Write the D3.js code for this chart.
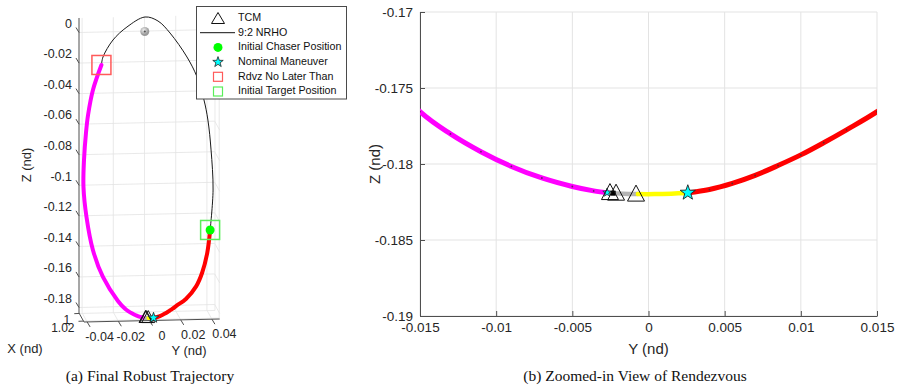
<!DOCTYPE html>
<html>
<head>
<meta charset="utf-8">
<script src="https://cdn.jsdelivr.net/npm/d3@7"></script>
<style>
  body { margin: 0; background: #fff; }
  svg { display: block; font-family: "Liberation Sans", Arial, sans-serif; }
</style>
</head>
<body>
<svg id="fig" width="898" height="389"></svg>
<script>
// ---- trajectory data, [X, Y, Z] in non-dimensional units ----
// 9:2 NRHO, from the rendezvous deadline point over apolune down to the chaser start
const nrhoArc = [
  [1.0023, -0.0281, -0.0207], [1.0023, -0.0271, -0.0155], [1.0016, -0.0206, -0.0047],
  [1.0012, -0.0116, 0.0035],  [1.0012, 0.0000, 0.0098],   [1.0012, 0.0083, 0.0070],
  [1.0023, 0.0159, -0.0008],  [1.0047, 0.0264, -0.0161],  [1.0059, 0.0327, -0.0290],
  [1.0070, 0.0370, -0.0439],  [1.0094, 0.0392, -0.0565],  [1.0117, 0.0409, -0.0755],
  [1.0153, 0.0417, -0.1009],  [1.0176, 0.0395, -0.1264]
];
// target motion down to the rendezvous (magenta)
const targetArc = [
  [1.0023, -0.0281, -0.0207], [1.0035, -0.0337, -0.0366], [1.0047, -0.0370, -0.0526],
  [1.0059, -0.0385, -0.0641], [1.0070, -0.0399, -0.0814], [1.0082, -0.0404, -0.0988],
  [1.0106, -0.0388, -0.1179], [1.0129, -0.0350, -0.1390], [1.0153, -0.0289, -0.1562],
  [1.0176, -0.0196, -0.1715], [1.0188, -0.0150, -0.17656], [1.0195, -0.0130, -0.17802],
  [1.0202, -0.0110, -0.17919], [1.0209, -0.0090, -0.18016], [1.0214, -0.0070, -0.18092],
  [1.0219, -0.0050, -0.18148], [1.0221, -0.0036, -0.18177], [1.0223, -0.0026, -0.18190]
];
// coast between corrections (gray)
const coastArc = [
  [1.0223, -0.0026, -0.18190], [1.0223, -0.0017, -0.18196], [1.0223, -0.0007, -0.18198]
];
// final approach (yellow)
const finalArc = [
  [1.0223, -0.0007, -0.18198], [1.0223, 0.0004, -0.18198], [1.0223, 0.0015, -0.18195],
  [1.0223, 0.0026, -0.18190]
];
// chaser transfer from its initial position (red)
const chaserArc = [
  [1.0223, 0.0026, -0.18190], [1.0223, 0.0040, -0.18168], [1.0222, 0.0055, -0.18128],
  [1.0221, 0.0070, -0.18075], [1.0219, 0.0085, -0.18010], [1.0217, 0.0100, -0.17940],
  [1.0215, 0.0115, -0.17860], [1.0212, 0.0130, -0.17775], [1.0209, 0.0150, -0.17656],
  [1.0207, 0.0180, -0.17440], [1.0204, 0.0236, -0.17050], [1.0200, 0.0302, -0.16250],
  [1.0193, 0.0342, -0.15370], [1.0186, 0.0375, -0.14120], [1.0176, 0.0395, -0.12640]
];

// trajectory correction maneuvers
const tcmX = [1.0223, 1.0223, 1.0223];
const tcmY = [-0.00253, -0.00213, -0.00082];
const tcmZ = [-0.18188, -0.18192, -0.18198];

const nominalManeuver = [1.0223, 0.00258, -0.18189];
const rendezvousStar = [1.0223, -0.00272, -0.18188];
const rendezvousDot = [1.0223, -0.00232, -0.18192];
const chaserStart = [1.0176, 0.0395, -0.1264];
const targetStart = [1.0176, 0.0395, -0.1264];
const rdvzDeadline = [1.0023, -0.0281, -0.0207];
const moon = [1.0000, 0, 0];

// ---- axis ticks ----
const zTicks3d = [0, -0.02, -0.04, -0.06, -0.08, -0.1, -0.12, -0.14, -0.16, -0.18];
const yTicks3d = [-0.04, -0.02, 0, 0.02, 0.04];
const xTicks3d = [1, 1.02];
const yTicksZoom = [-0.015, -0.01, -0.005, 0, 0.005, 0.01, 0.015];
const zTicksZoom = [-0.17, -0.175, -0.18, -0.185, -0.19];

const legendLabels = ["TCM", "9:2 NRHO", "Initial Chaser Position", "Nominal Maneuver",
                      "Rdvz No Later Than", "Initial Target Position"];
const captions = ["(a) Final Robust Trajectory", "(b) Zoomed-in View of Rendezvous"];

// ---- styles ----
const C = {
  magenta: "#ff00ff", red: "#ff0000", yellow: "#ffff00", gray: "#b4b4b4",
  cyan: "#00ffff", lime: "#00ff00", grid: "#e3e3e3", axis: "#4f4f4f", text: "#262626",
  rdvzBox: "#ff5a5a", targetBox: "#5aee5a"
};

const svg = d3.select("#fig");
const fmt = v => String(v);

function starPath(cx, cy, R) {
  const r = R * 0.4;
  const pts = d3.range(10).map(i => {
    const a = -Math.PI / 2 + i * Math.PI / 5, rr = i % 2 ? r : R;
    return [cx + rr * Math.cos(a), cy + rr * Math.sin(a)];
  });
  return "M" + pts.map(p => p.join(",")).join("L") + "Z";
}
function triPath(cx, cy, w, h) {
  return `M${cx},${cy - h / 2}L${cx + w / 2},${cy + h / 2}L${cx - w / 2},${cy + h / 2}Z`;
}

// =================== (a) 3-D view ===================
const xLim = [0.9988, 1.0224], yLim = [-0.042, 0.045], zLim = [-0.1836, 0.0095];
const Y3 = d3.scaleLinear().domain(yLim).range([79, 214.72]);
const Z3 = d3.scaleLinear().domain([0, -0.18]).range([32.5, 307.5]);
const T3 = d3.scaleLinear().domain(xLim).range([0, 1]);
const S3 = d3.scaleLinear().domain(yLim).range([0, -3]);
const DEPTH = [5, 9];
const p3 = (X, Y, Z) => {
  const t = T3(X);
  return [Y3(Y) + DEPTH[0] * t, Z3(Z) + S3(Y) + DEPTH[1] * t];
};
const gA = svg.append("g");
const seg = (g, a, b, color, w) => {
  const A = p3(...a), B = p3(...b);
  g.append("line").attr("x1", A[0]).attr("y1", A[1]).attr("x2", B[0]).attr("y2", B[1])
    .attr("stroke", color).attr("stroke-width", w || 0.8);
};

// grid: back wall, right wall, floor
const gGrid = gA.append("g");
zTicks3d.forEach(z => {
  seg(gGrid, [xLim[0], yLim[0], z], [xLim[0], yLim[1], z], C.grid);
  seg(gGrid, [xLim[0], yLim[1], z], [xLim[1], yLim[1], z], C.grid);
});
yTicks3d.forEach(y => {
  seg(gGrid, [xLim[0], y, zLim[0]], [xLim[0], y, zLim[1]], C.grid);
  seg(gGrid, [xLim[0], y, zLim[0]], [xLim[1], y, zLim[0]], C.grid);
});
xTicks3d.forEach(x => {
  seg(gGrid, [x, yLim[1], zLim[0]], [x, yLim[1], zLim[1]], C.grid);
  seg(gGrid, [x, yLim[0], zLim[0]], [x, yLim[1], zLim[0]], C.grid);
});

// axes
const gAx = gA.append("g");
seg(gAx, [xLim[0], yLim[0], zLim[0]], [xLim[0], yLim[0], zLim[1]], C.axis, 1);
seg(gAx, [xLim[0], yLim[0], zLim[0]], [xLim[1], yLim[0], zLim[0]], C.axis, 1);
seg(gAx, [xLim[1], yLim[0], zLim[0]], [xLim[1], yLim[1], zLim[0]], C.axis, 1);

const tick3 = (P, dx, dy) => gAx.append("line")
  .attr("x1", P[0]).attr("y1", P[1]).attr("x2", P[0] + dx).attr("y2", P[1] + dy)
  .attr("stroke", C.axis).attr("stroke-width", 1);
const label3 = (x, y, txt, anchor, size) => gAx.append("text").attr("x", x).attr("y", y)
  .attr("text-anchor", anchor).attr("dominant-baseline", "middle")
  .attr("font-size", size || 12.5).attr("fill", C.text).text(txt);

zTicks3d.forEach(z => {
  const P = p3(xLim[0], yLim[0], z);
  tick3(P, -3, -5);
  label3(P[0] - 7, P[1] - 8, fmt(z), "end");
});
yTicks3d.forEach(y => {
  const P = p3(xLim[1], y, zLim[0]);
  tick3(P, 3, 5);
  label3(P[0] + 12.5, P[1] + 16, fmt(y), "middle");
});
xTicks3d.forEach(x => {
  const P = p3(x, yLim[0], zLim[0]);
  tick3(P, -5, 0.2);
  label3(P[0] - 9, P[1] + 7.5, fmt(x), "end", 12);
});
gA.append("text").attr("transform", "translate(28,165) rotate(-90)")
  .attr("text-anchor", "middle").attr("dominant-baseline", "middle")
  .attr("font-size", 13).attr("fill", C.text).text("Z (nd)");
gA.append("text").attr("x", 189).attr("y", 352).attr("text-anchor", "middle")
  .attr("dominant-baseline", "middle").attr("font-size", 13).attr("fill", C.text).text("Y (nd)");
gA.append("text").attr("x", 25).attr("y", 350).attr("text-anchor", "middle")
  .attr("dominant-baseline", "middle").attr("font-size", 13).attr("fill", C.text).text("X (nd)");

// moon
const defs = svg.append("defs");
const grad = defs.append("radialGradient").attr("id", "moonShade").attr("cx", "40%").attr("cy", "35%");
grad.append("stop").attr("offset", "0%").attr("stop-color", "#f2f2f2");
grad.append("stop").attr("offset", "100%").attr("stop-color", "#9a9a9a");
const M = p3(...moon);
gA.append("circle").attr("cx", M[0]).attr("cy", M[1]).attr("r", 4.5).attr("fill", "url(#moonShade)");
gA.append("circle").attr("cx", M[0]).attr("cy", M[1]).attr("r", 1.1).attr("fill", "#555");

// trajectories
const line3 = d3.line().x(d => p3(...d)[0]).y(d => p3(...d)[1]).curve(d3.curveCatmullRom.alpha(0.5));
const gTr = gA.append("g").attr("fill", "none").attr("stroke-linecap", "round");
gTr.append("path").attr("d", line3(nrhoArc)).attr("stroke", "#1a1a1a").attr("stroke-width", 1);
gTr.append("path").attr("d", line3(targetArc)).attr("stroke", C.magenta).attr("stroke-width", 4);
gTr.append("path").attr("d", line3(coastArc)).attr("stroke", C.gray).attr("stroke-width", 4);
gTr.append("path").attr("d", line3(finalArc)).attr("stroke", C.yellow).attr("stroke-width", 4);
gTr.append("path").attr("d", line3(chaserArc)).attr("stroke", C.red).attr("stroke-width", 4);

// markers
const RB = p3(...rdvzDeadline);
gA.append("rect").attr("x", RB[0] - 9.5).attr("y", RB[1] - 9.5).attr("width", 19).attr("height", 19)
  .attr("fill", "none").attr("stroke", C.rdvzBox).attr("stroke-width", 1.5);
const CS = p3(...chaserStart);
gA.append("circle").attr("cx", CS[0]).attr("cy", CS[1]).attr("r", 4.5).attr("fill", C.lime);
const TS = p3(...targetStart);
gA.append("rect").attr("x", TS[0] - 9.5).attr("y", TS[1] - 9.5).attr("width", 19).attr("height", 19)
  .attr("fill", "none").attr("stroke", C.targetBox).attr("stroke-width", 1.5);
tcmY.forEach((y, i) => {
  const P = p3(tcmX[i], y, tcmZ[i]);
  gA.append("path").attr("d", triPath(P[0], P[1] - 1.5, 13, 12)).attr("fill", "none")
    .attr("stroke", "#111").attr("stroke-width", 1);
});
const NM = p3(...nominalManeuver);
gA.append("path").attr("d", starPath(NM[0], NM[1], 5.5)).attr("fill", C.cyan)
  .attr("stroke", "#222").attr("stroke-width", 0.8);

// legend
const gL = svg.append("g");
gL.append("rect").attr("x", 196.5).attr("y", 6.5).attr("width", 150).attr("height", 92.5)
  .attr("fill", "#fff").attr("stroke", "#4a4a4a").attr("stroke-width", 1);
const legY = i => 18 + i * 14.7;
const icx = 218;
gL.append("path").attr("d", triPath(icx, legY(0), 13, 11)).attr("fill", "none").attr("stroke", "#111").attr("stroke-width", 1);
gL.append("line").attr("x1", 200).attr("x2", 235).attr("y1", legY(1)).attr("y2", legY(1)).attr("stroke", "#111").attr("stroke-width", 1);
gL.append("circle").attr("cx", icx).attr("cy", legY(2)).attr("r", 4.5).attr("fill", C.lime);
gL.append("path").attr("d", starPath(icx, legY(3), 5.5)).attr("fill", C.cyan).attr("stroke", "#222").attr("stroke-width", 0.8);
gL.append("rect").attr("x", icx - 4.5).attr("y", legY(4) - 4.5).attr("width", 9).attr("height", 9)
  .attr("fill", "none").attr("stroke", C.rdvzBox).attr("stroke-width", 1.2);
gL.append("rect").attr("x", icx - 4.5).attr("y", legY(5) - 4.5).attr("width", 9).attr("height", 9)
  .attr("fill", "none").attr("stroke", C.targetBox).attr("stroke-width", 1.2);
legendLabels.forEach((t, i) => gL.append("text").attr("x", 238).attr("y", legY(i))
  .attr("dominant-baseline", "middle").attr("font-size", 10.7).attr("fill", "#111").text(t));

// =================== (b) zoomed view ===================
const yZ = d3.scaleLinear().domain([-0.015, 0.015]).range([420, 877]);
const zZ = d3.scaleLinear().domain([-0.19, -0.17]).range([316, 12]);
const gB = svg.append("g");

// grid
const gGB = gB.append("g").attr("stroke", C.grid).attr("stroke-width", 1);
yTicksZoom.forEach(v => gGB.append("line").attr("x1", yZ(v)).attr("x2", yZ(v)).attr("y1", zZ(-0.19)).attr("y2", zZ(-0.17)));
zTicksZoom.forEach(v => gGB.append("line").attr("x1", yZ(-0.015)).attr("x2", yZ(0.015)).attr("y1", zZ(v)).attr("y2", zZ(v)));

// axes
const axB = gB.append("g").attr("transform", `translate(0,${zZ(-0.19)})`)
  .call(d3.axisBottom(yZ).tickValues(yTicksZoom).tickFormat(fmt).tickSizeInner(-5).tickSizeOuter(0).tickPadding(6));
const axL = gB.append("g").attr("transform", `translate(${yZ(-0.015)},0)`)
  .call(d3.axisLeft(zZ).tickValues(zTicksZoom).tickFormat(fmt).tickSizeInner(-5).tickSizeOuter(0).tickPadding(7));
[axB, axL].forEach(a => {
  a.select(".domain").attr("stroke", C.axis);
  a.selectAll(".tick line").attr("stroke", C.axis);
  a.selectAll("text").attr("font-size", 13.5).attr("fill", C.text)
    .attr("font-family", "Liberation Sans, Arial, sans-serif");
});
gB.append("text").attr("x", yZ(0)).attr("y", 350).attr("text-anchor", "middle")
  .attr("dominant-baseline", "middle").attr("font-size", 15).attr("fill", C.text).text("Y (nd)");
gB.append("text").attr("transform", "translate(376,164) rotate(-90)").attr("text-anchor", "middle")
  .attr("dominant-baseline", "middle").attr("font-size", 15).attr("fill", C.text).text("Z (nd)");

// trajectories
defs.append("clipPath").attr("id", "zoomClip").append("rect")
  .attr("x", yZ(-0.015)).attr("y", zZ(-0.17)).attr("width", yZ(0.015) - yZ(-0.015))
  .attr("height", zZ(-0.19) - zZ(-0.17));
const line2 = d3.line().x(d => yZ(d[1])).y(d => zZ(d[2])).curve(d3.curveCatmullRom.alpha(0.5));
const gTB = gB.append("g").attr("clip-path", "url(#zoomClip)").attr("fill", "none").attr("stroke-linecap", "round");
gTB.append("path").attr("d", line2(targetArc)).attr("stroke", C.magenta).attr("stroke-width", 5);
gTB.append("path").attr("d", line2(coastArc)).attr("stroke", C.gray).attr("stroke-width", 4.5);
gTB.append("path").attr("d", line2(finalArc)).attr("stroke", C.yellow).attr("stroke-width", 4.5);
gTB.append("path").attr("d", line2(chaserArc)).attr("stroke", C.red).attr("stroke-width", 5);
// sample points along the arcs
targetArc.concat(chaserArc).filter(d => d[1] >= -0.015 && d[1] <= 0.015)
  .forEach(d => gTB.append("circle").attr("cx", yZ(d[1])).attr("cy", zZ(d[2])).attr("r", 0.9)
    .attr("fill", "#333").attr("fill-opacity", 0.75));

// markers
gB.append("path").attr("d", starPath(yZ(rendezvousStar[1]), zZ(rendezvousStar[2]), 4.5))
  .attr("fill", C.cyan).attr("stroke", "#222").attr("stroke-width", 0.7);
gB.append("rect").attr("x", yZ(rendezvousDot[1]) - 2.5).attr("y", zZ(rendezvousDot[2]) - 2.5)
  .attr("width", 5).attr("height", 5).attr("fill", "#000");
tcmY.forEach((y, i) => gB.append("path").attr("d", triPath(yZ(y), zZ(tcmZ[i]) - 1, 17, 16))
  .attr("fill", "none").attr("stroke", "#111").attr("stroke-width", 1));
gB.append("path").attr("d", starPath(yZ(nominalManeuver[1]), zZ(nominalManeuver[2]), 8))
  .attr("fill", C.cyan).attr("stroke", "#222").attr("stroke-width", 0.9);

// captions
[[150, captions[0]], [635, captions[1]]].forEach(([x, t]) =>
  svg.append("text").attr("x", x).attr("y", 377).attr("text-anchor", "middle")
    .attr("dominant-baseline", "middle").attr("font-family", "Liberation Serif, DejaVu Serif, serif")
    .attr("font-size", 15.5).attr("fill", "#111").text(t));
</script>
</body>
</html>
